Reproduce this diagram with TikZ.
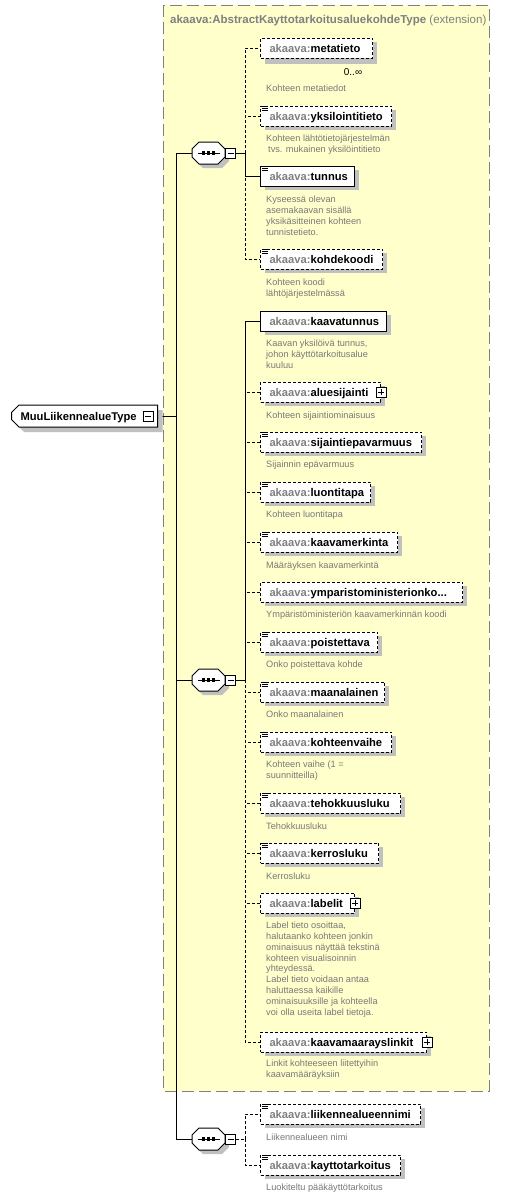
\documentclass[tikz,border=0pt]{standalone}
\usepackage{fontspec}
\setmainfont{Liberation Sans}
\usetikzlibrary{shapes.misc,shadows}
\definecolor{extyellow}{RGB}{255,255,204}
\definecolor{extborder}{RGB}{128,128,128}
\definecolor{pfxgray}{RGB}{128,128,128}
\definecolor{descgray}{RGB}{120,120,120}
\definecolor{shadowgray}{RGB}{192,192,192}
\newcommand\namefont{\fontsize{11.2}{13}\selectfont\bfseries}
\newcommand\descfont{\fontsize{9.2}{10.9}\selectfont}
\newcommand\pfx{{\color{pfxgray}akaava:}}
\pgfdeclarelayer{bg}
\pgfsetlayers{bg,main}
\tikzset{
  elembox/.style={draw, line width=1pt, fill=white, anchor=west, minimum height=20pt,
    inner xsep=9pt, inner ysep=0pt, align=left, font=\namefont, text height=9pt, text depth=1pt,
    drop shadow={shadow xshift=4pt, shadow yshift=-4pt, fill=shadowgray, opacity=1}},
  optb/.style={dash pattern=on 3pt off 2pt},
  desc/.style={anchor=north west, inner sep=0pt, align=left, font=\descfont, text=descgray},
  conn/.style={draw, line width=1pt},
  optconn/.style={conn, dash pattern=on 3pt off 2pt},
  smallbox/.style={draw, line width=1pt, fill=white, minimum size=10pt, inner sep=0pt},
  minusbox/.style={smallbox, path picture={\draw[line width=1pt] ([xshift=2pt]path picture bounding box.west) -- ([xshift=-2pt]path picture bounding box.east);}},
  plusbox/.style={smallbox, path picture={\draw[line width=1pt] ([xshift=2pt]path picture bounding box.west) -- ([xshift=-2pt]path picture bounding box.east); \draw[line width=1pt] ([yshift=-2pt]path picture bounding box.north) -- ([yshift=2pt]path picture bounding box.south);}},
  comp/.style={minimum width=33pt, minimum height=22pt, inner sep=0pt},
  mainnode/.style={chamfered rectangle, chamfered rectangle corners={north west,south west},
    chamfered rectangle xsep=4pt, draw, line width=1pt, fill=white, anchor=west,
    minimum height=22pt, text width=128pt, inner xsep=5pt, inner ysep=0pt, align=left,
    font=\namefont, text height=9pt, text depth=1pt,
    drop shadow={shadow xshift=5pt, shadow yshift=-5pt, fill=shadowgray, opacity=1}},
}
\newcommand\simpleicon[1]{%
  \fill[white] ([shift={(1.5,0.5)}]#1.north west) rectangle ++(6.5,5.5);
  \foreach \dy in {1.3,3.3,5.3}{\draw[line width=0.8pt] ([shift={(2,\dy)}]#1.north west) -- ++(5.5,0);}}
\newcommand\octpath{(-16.5,-4) -- (-9.5,-11) -- (9.5,-11) -- (16.5,-4) -- (16.5,4) -- (9.5,11) -- (-9.5,11) -- (-16.5,4) -- cycle}
\newcommand\seqshape[1]{%
  \fill[shadowgray, shift={(#1.center)}, xshift=4pt, yshift=-4pt] \octpath;
  \draw[line width=1pt, fill=white, shift={(#1.center)}] \octpath;
  \draw[line width=1pt] ([xshift=-11pt]#1.center) -- ([xshift=11pt]#1.center);
  \foreach \dx in {-5,0,5}{\fill ([shift={(\dx-1.7,-1.7)}]#1.center) rectangle ++(3.4,3.4);}}
\begin{document}
\begin{tikzpicture}[x=1pt,y=-1pt]
\useasboundingbox (0,0) rectangle (532,1197);
\begin{pgfonlayer}{bg}
  \fill[white] (0,0) rectangle (532,1197);
  \draw[extborder, fill=extyellow, line width=1pt, dash pattern=on 12pt off 5pt] (163,5) rectangle (489,1091);
\end{pgfonlayer}

\node[anchor=base west, inner sep=0pt, font=\fontsize{11.5}{13}\selectfont\bfseries, text=pfxgray] (title) at (170,23)
  {akaava:AbstractKayttotarkoitusaluekohdeType\ {\mdseries (extension)}};

% main node
\node[mainnode] (main) at (11,416) {MuuLiikennealueType};
\node[minusbox] (mm) at (148,416) {};

% compositors
\node[comp] (seq1) at (208.5,153) {};
\node[comp] (seq2) at (208.5,680) {};
\node[comp] (seq3) at (208.5,1139) {};
\seqshape{seq1}\seqshape{seq2}\seqshape{seq3}
\node[minusbox] (m1) at (230.5,153) {};
\node[minusbox] (m2) at (230.5,680) {};
\node[minusbox] (m3) at (230.5,1139) {};

% sequence 1
\node[elembox, optb, text width=94pt, drop shadow={shadow xshift=4pt, shadow yshift=-6pt, fill=shadowgray, opacity=1}] (metatieto) at (260,48) {\pfx metatieto};
\node[inner sep=0pt, font=\fontsize{10}{12}\selectfont] (mult) at (353,72) {0..∞};
\node[desc] (d1) at (266,84.5) {Kohteen metatiedot};

\node[elembox, optb, text width=113pt] (yksilointitieto) at (260,116) {\pfx yksilointitieto};
\simpleicon{yksilointitieto}
\node[desc] (d2) at (266,134.5) {Kohteen lähtötietojärjestelmän\\\hspace*{2pt}tvs. mukainen yksilöintitieto};

\node[elembox, text width=76pt] (tunnus) at (260,176) {\pfx tunnus};
\simpleicon{tunnus}
\node[desc] (d3) at (266,195.5) {Kyseessä olevan\\asemakaavan sisällä\\yksikäsitteinen kohteen\\tunnistetieto.};

\node[elembox, optb, text width=104pt] (kohdekoodi) at (260,259) {\pfx kohdekoodi};
\simpleicon{kohdekoodi}
\node[desc] (d4) at (266,278.5) {Kohteen koodi\\lähtöjärjestelmässä};

% sequence 2
\node[elembox, text width=108pt] (kaavatunnus) at (260,321) {\pfx kaavatunnus};
\node[desc] (d5) at (266,339.5) {Kaavan yksilöivä tunnus,\\johon käyttötarkoitusalue\\kuuluu};

\node[elembox, optb, text width=102pt] (aluesijainti) at (260,392) {\pfx aluesijainti};
\node[plusbox] (p1) at (aluesijainti.east) {};
\node[desc] (d6) at (266,411.5) {Kohteen sijaintiominaisuus};

\node[elembox, optb, text width=143pt] (sijaintiepavarmuus) at (260,442) {\pfx sijaintiepavarmuus};
\simpleicon{sijaintiepavarmuus}
\node[desc] (d7) at (266,460.5) {Sijainnin epävarmuus};

\node[elembox, optb, text width=92pt] (luontitapa) at (260,492) {\pfx luontitapa};
\simpleicon{luontitapa}
\node[desc] (d8) at (266,510.5) {Kohteen luontitapa};

\node[elembox, optb, text width=119pt] (kaavamerkinta) at (260,542) {\pfx kaavamerkinta};
\simpleicon{kaavamerkinta}
\node[desc] (d9) at (266,561.5) {Määräyksen kaavamerkintä};

\node[elembox, optb, text width=184pt] (ympar) at (260,592) {\pfx ymparistoministerionko...};
\node[desc] (d10) at (266,610.5) {Ympäristöministeriön kaavamerkinnän koodi};

\node[elembox, optb, text width=99pt] (poistettava) at (260,642) {\pfx poistettava};
\simpleicon{poistettava}
\node[desc] (d11) at (266,660.5) {Onko poistettava kohde};

\node[elembox, optb, text width=106pt] (maanalainen) at (260,692) {\pfx maanalainen};
\simpleicon{maanalainen}
\node[desc] (d12) at (266,710.5) {Onko maanalainen};

\node[elembox, optb, text width=113pt] (kohteenvaihe) at (260,742) {\pfx kohteenvaihe};
\simpleicon{kohteenvaihe}
\node[desc] (d13) at (266,760.5) {Kohteen vaihe (1 =\\suunnitteilla)};

\node[elembox, optb, text width=122pt] (tehokkuusluku) at (260,803) {\pfx tehokkuusluku};
\simpleicon{tehokkuusluku}
\node[desc] (d14) at (266,822.5) {Tehokkuusluku};

\node[elembox, optb, text width=100pt] (kerrosluku) at (260,853) {\pfx kerrosluku};
\simpleicon{kerrosluku}
\node[desc] (d15) at (266,872.5) {Kerrosluku};

\node[elembox, optb, text width=76pt] (labelit) at (260,903) {\pfx labelit};
\node[plusbox] (p2) at (labelit.east) {};
\node[desc] (d16) at (266,921.5) {Label tieto osoittaa,\\halutaanko kohteen jonkin\\ominaisuus näyttää tekstinä\\kohteen visualisoinnin\\yhteydessä.\\Label tieto voidaan antaa\\haluttaessa kaikille\\ominaisuuksille ja kohteella\\voi olla useita label tietoja.};

\node[elembox, optb, text width=148pt] (kaavamaarayslinkit) at (260,1042) {\pfx kaavamaarayslinkit};
\node[plusbox] (p3) at (kaavamaarayslinkit.east) {};
\node[desc] (d17) at (266,1059.5) {Linkit kohteeseen liitettyihin\\kaavamääräyksiin};

% sequence 3
\node[elembox, optb, text width=142pt] (liikennealueennimi) at (260,1114) {\pfx liikennealueennimi};
\simpleicon{liikennealueennimi}
\node[desc] (d18) at (266,1133.5) {Liikennealueen nimi};

\node[elembox, optb, text width=122pt] (kayttotarkoitus) at (260,1165) {\pfx kayttotarkoitus};
\simpleicon{kayttotarkoitus}
\node[desc] (d19) at (266,1183.5) {Luokiteltu pääkäyttötarkoitus};

% connectors
\begin{pgfonlayer}{bg}
  \coordinate (trunk) at (176,416);
  \coordinate (j1) at (245,153);
  \coordinate (j2) at (245,680);
  \coordinate (j3) at (245,1139);
  \draw[conn] (mm.east) -- (trunk);
  \draw[conn] (seq1.west) -| (trunk);
  \draw[conn] (trunk) |- (seq2.west);
  \draw[conn] (trunk) |- (seq3.west);
  \draw[conn] (m1.east) -- (j1);
  \draw[optconn] (j1) |- (metatieto.west);
  \draw[optconn] (j1) |- (yksilointitieto.west);
  \draw[optconn] (j1) |- (kohdekoodi.west);
  \draw[conn] (j1) |- (tunnus.west);
  \draw[conn] (m2.east) -- (j2);
  \foreach \n in {aluesijainti,sijaintiepavarmuus,luontitapa,kaavamerkinta,ympar,poistettava,maanalainen,kohteenvaihe,tehokkuusluku,kerrosluku,labelit,kaavamaarayslinkit}
    {\draw[optconn] (j2) |- (\n.west);}
  \draw[conn] (j2) |- (kaavatunnus.west);
  \draw[optconn] (m3.east) -- (j3);
  \draw[optconn] (j3) |- (liikennealueennimi.west);
  \draw[optconn] (j3) |- (kayttotarkoitus.west);
\end{pgfonlayer}
\end{tikzpicture}
\end{document}
